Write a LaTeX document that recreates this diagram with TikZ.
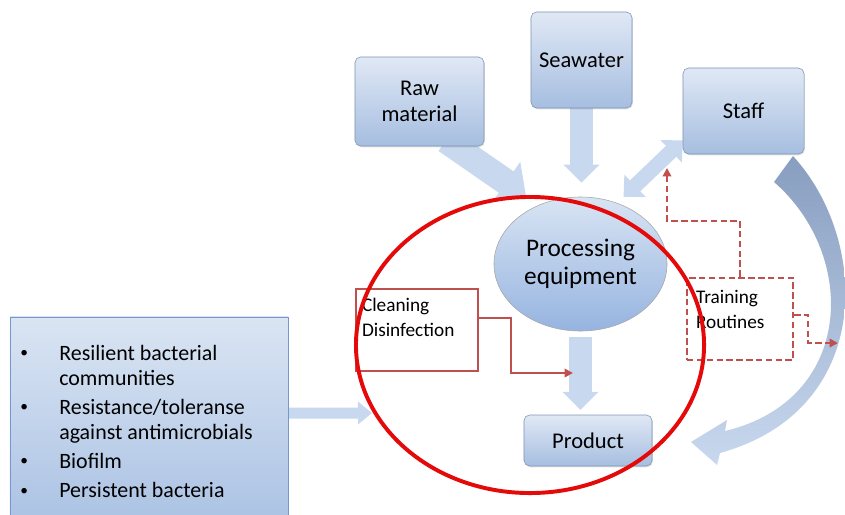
\documentclass[tikz,border=0pt]{standalone}
\usepackage{fontspec}
\setmainfont{Carlito}
\usepackage{tikz}
\usetikzlibrary{arrows.meta,positioning,shapes.geometric,shadows}

\definecolor{boxtop}{RGB}{224,232,245}
\definecolor{boxbot}{RGB}{166,190,224}
\definecolor{boxline}{RGB}{128,148,180}
\definecolor{proctop}{RGB}{216,228,243}
\definecolor{procbot}{RGB}{150,180,224}
\definecolor{listtop}{RGB}{218,229,243}
\definecolor{listbot}{RGB}{172,195,228}
\definecolor{listline}{RGB}{118,150,205}
\definecolor{arrowblue}{RGB}{200,216,238}
\definecolor{curvetop}{RGB}{136,158,192}
\definecolor{curvemid}{RGB}{176,196,224}
\definecolor{curvebot}{RGB}{200,216,238}
\definecolor{linered}{RGB}{192,80,77}
\definecolor{zonered}{RGB}{228,10,10}

\newcommand{\listdot}{\raisebox{0.12em}{\fontsize{11}{11}\selectfont\textbullet}}

\pgfdeclarelayer{bg}
\pgfsetlayers{bg,main}

\begin{document}
\begin{tikzpicture}[
    x=0.025cm, y=-0.025cm,
    every node/.style={font=\fontsize{16}{19}\selectfont},
    source/.style={draw=boxline, rounded corners=4pt, top color=boxtop, bottom color=boxbot,
        align=center, drop shadow={opacity=0.25, shadow xshift=0.6pt, shadow yshift=-0.9pt}},
    equip/.style={ellipse, draw=gray!70, top color=proctop, bottom color=procbot, align=center,
        inner sep=0pt, font=\fontsize{18}{19.5}\selectfont},
    listbox/.style={draw=listline, top color=listtop, bottom color=listbot},
    redbox/.style={draw=linered, line width=1.5pt, fill=white},
    note/.style={anchor=north west, align=left, font=\fontsize{13.7}{17.8}\selectfont},
    fatarrow/.style={draw=arrowblue, line width=0.575cm, -{Triangle[width=0.875cm, length=0.45cm]}},
    redarrow/.style={draw=linered, line width=1.5pt, -{Triangle[width=6pt, length=6pt]}},
    dasharrow/.style={redarrow, line width=1.7pt, dash pattern=on 4.6pt off 2.4pt}
]
\clip (0,0) rectangle (845,514);

% sources and process
\node[source, minimum width=3.225cm, minimum height=2.225cm] (raw) at (419.5,101.5) {Raw\\material};
\node[source, minimum width=2.525cm, minimum height=2.4cm] (sea) at (581.5,60) {Seawater};
\node[source, minimum width=3.025cm, minimum height=2.15cm] (staff) at (743.5,111) {Staff};
\node[equip, minimum width=4.325cm, minimum height=3.35cm] (proc) at (580.5,264) {Processing\\equipment};
\node[source, minimum width=3.2cm, minimum height=1.275cm] (product) at (588,440.5) {Product};

% measures
\node[redbox, minimum width=3.05cm, minimum height=2.05cm] (clean) at (417,330) {};
\node[note, inner xsep=0.17cm, inner ysep=0.25cm] at (clean.north west) {Cleaning\\Disinfection};
\node[redbox, line width=1.7pt, dash pattern=on 4.6pt off 2.4pt, minimum width=2.65cm, minimum height=2.05cm] (train) at (740,319) {};
\node[note, inner xsep=0.25cm, inner ysep=0.33cm] at (train.north west) {Training\\Routines};

% bacterial factors
\node[listbox, minimum width=6.95cm, minimum height=5.025cm] (factors) at (149,417.5) {};
\node[anchor=north west, inner sep=0pt, font=\fontsize{15.6}{17.8}\selectfont] (factorlist) at (20,342.5) {%
    \begin{tabular}{@{}p{0.975cm}@{}l@{}}
    \listdot & Resilient bacterial\\
             & communities\\[2.8pt]
    \listdot & Resistance/toleranse\\
             & against antimicrobials\\[2.8pt]
    \listdot & Biofilm\\[3.2pt]
    \listdot & Persistent bacteria
    \end{tabular}};

\coordinate (zonein) at (372,413);
\coordinate (cleanin) at (573,373);
\coordinate (trainup) at (667,168);
\coordinate (trainout) at (838,343);

\begin{pgfonlayer}{bg}
\draw[fatarrow, line width=0.65cm, -{Triangle[width=1.2cm, length=0.6cm]}, shorten >=0.4cm]
    ([xshift=0.66cm, yshift=0.15cm]raw.south) -- (proc.125);
\draw[fatarrow, shorten >=0.35cm] ([yshift=0.2cm]sea.south) -- (sea.south |- proc.north);
\draw[fatarrow, line width=0.375cm, {Triangle[width=0.75cm, length=0.4cm]}-{Triangle[width=0.75cm, length=0.4cm]},
    shorten <=0.22cm] (proc.59) -- ([yshift=0.35cm]staff.south west);
\draw[fatarrow, shorten <=0.15cm, shorten >=0.12cm] (proc.south) -- (proc.south |- product.north);
\draw[fatarrow, line width=0.275cm, -{Triangle[width=0.55cm, length=0.35cm]}]
    ([yshift=0.11cm]factors.east) -- (zonein);
% return arrow from staff to product
\shade[top color=curvetop, middle color=curvemid, bottom color=curvebot]
    (793,156) .. controls (870,240) and (875,410) .. (720,453) -- (717,465) -- (691,442) -- (727,420)
    -- (725,431) .. controls (855,400) and (858,255) .. (774,182) -- cycle;
\end{pgfonlayer}

\draw[redarrow] ([yshift=0.3cm]clean.east) -- ++(32,0) |- (cleanin);
\draw[dasharrow] (train.north) -- ++(0,-56) -| (trainup);
\draw[dasharrow] ([yshift=0.1cm]train.east) -- ++(14,0) |- (trainout);

\node[draw=zonered, line width=2.8pt, ellipse, minimum width=8.7cm, minimum height=7.4cm] (zone) at (530,345) {};
\end{tikzpicture}
\end{document}
